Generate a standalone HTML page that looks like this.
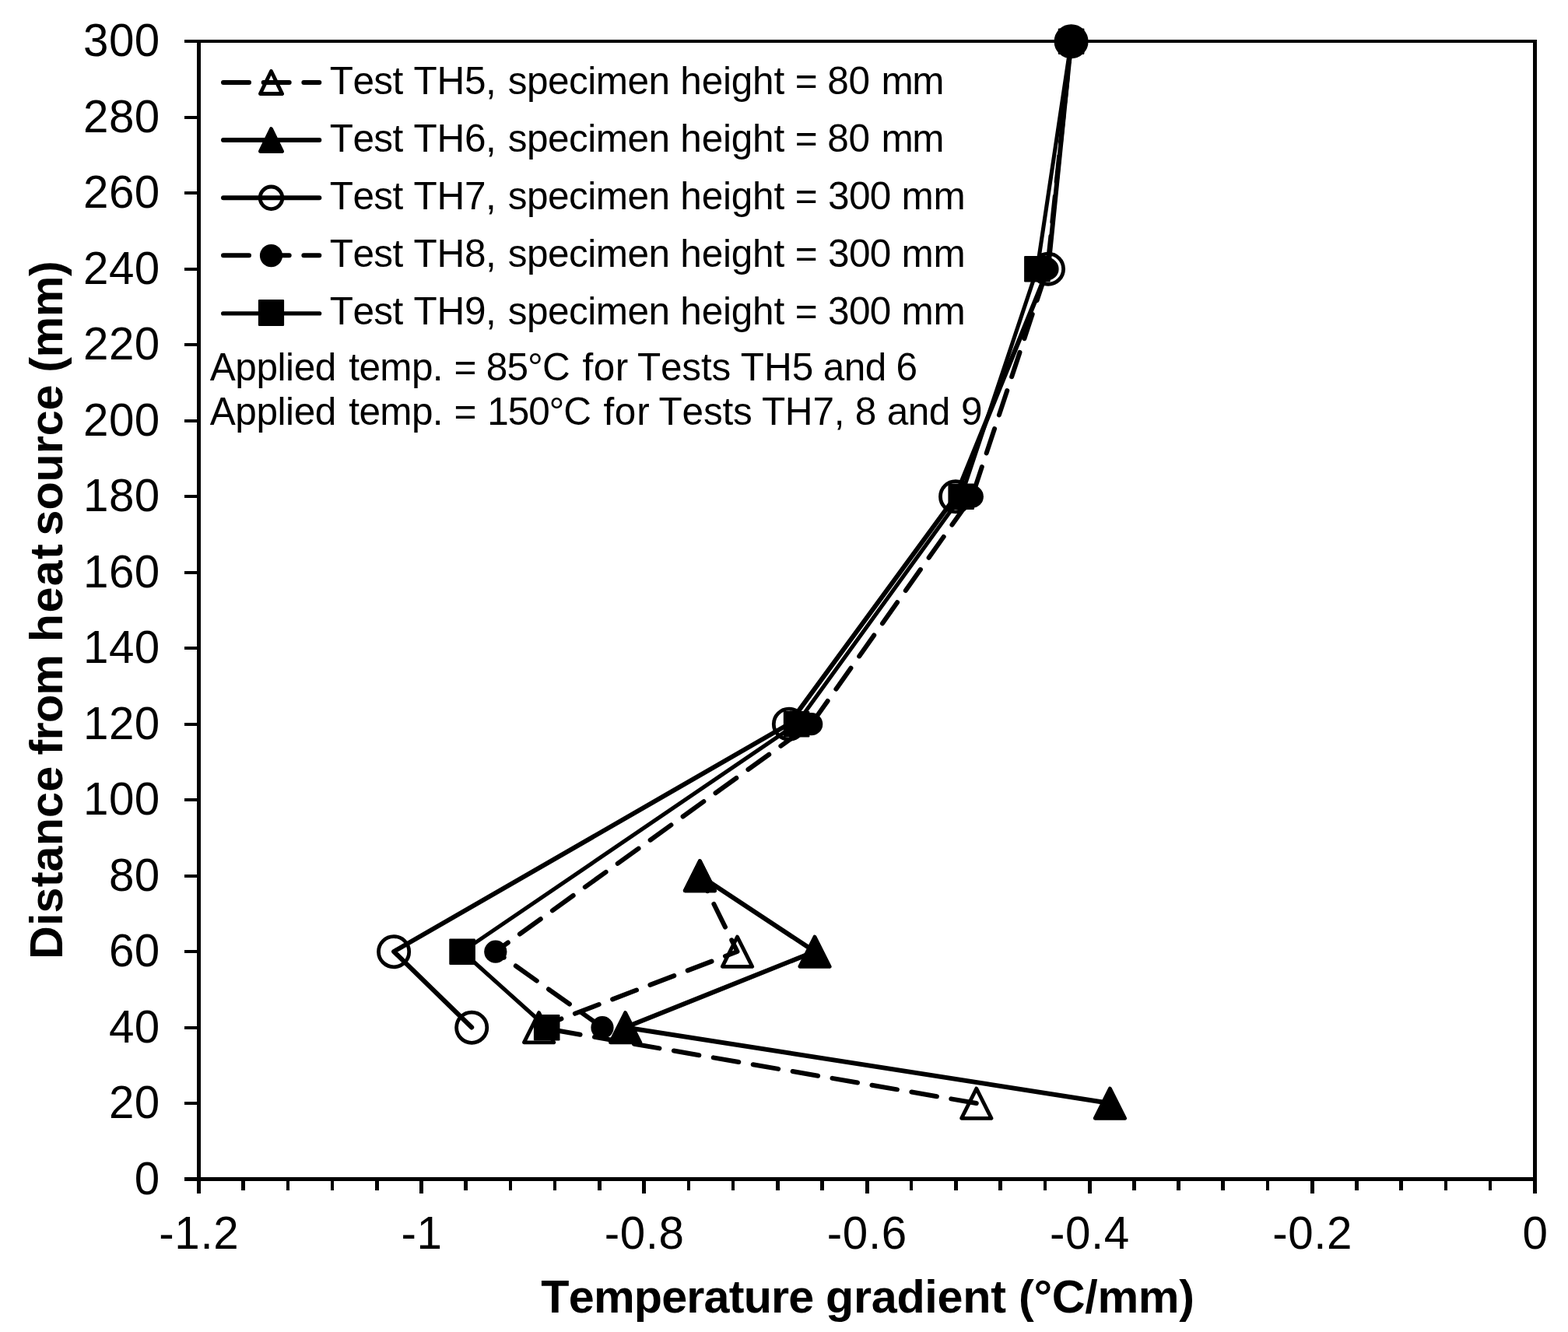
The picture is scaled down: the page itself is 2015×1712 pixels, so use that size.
<!DOCTYPE html>
<html lang="en"><head><meta charset="utf-8">
<title>Temperature gradient versus distance from heat source</title>
<style>
html,body{margin:0;padding:0;background:#fff;}
body{width:2015px;height:1712px;}
svg{display:block;}
text{font-family:"Liberation Sans",sans-serif;fill:#000;font-kerning:none;font-variant-ligatures:none;}
.b{font-weight:bold;}
</style></head><body>
<svg width="2015" height="1712" viewBox="0 0 2015 1712" role="img" aria-label="Temperature gradient versus distance from heat source for tests TH5 to TH9">
<rect x="0" y="0" width="2015" height="1712" fill="#fff"/>
<g fill="#000" shape-rendering="crispEdges">
<rect x="253" y="51" width="5" height="1483"/>
<rect x="1970" y="51" width="5" height="1483"/>
<rect x="237" y="51" width="1738" height="4"/>
<rect x="237" y="1513" width="1738" height="5"/>
<rect x="237" y="149" width="17" height="4"/>
<rect x="237" y="246" width="17" height="4"/>
<rect x="237" y="344" width="17" height="4"/>
<rect x="237" y="441" width="17" height="4"/>
<rect x="237" y="539" width="17" height="4"/>
<rect x="237" y="636" width="17" height="4"/>
<rect x="237" y="734" width="17" height="4"/>
<rect x="237" y="831" width="17" height="4"/>
<rect x="237" y="929" width="17" height="4"/>
<rect x="237" y="1026" width="17" height="4"/>
<rect x="237" y="1124" width="17" height="4"/>
<rect x="237" y="1221" width="17" height="4"/>
<rect x="237" y="1319" width="17" height="4"/>
<rect x="237" y="1416" width="17" height="4"/>
<rect x="310" y="1515" width="5" height="15"/>
<rect x="368" y="1515" width="4" height="15"/>
<rect x="425" y="1515" width="4" height="15"/>
<rect x="482" y="1515" width="5" height="15"/>
<rect x="539" y="1515" width="5" height="19"/>
<rect x="596" y="1515" width="5" height="15"/>
<rect x="654" y="1515" width="4" height="15"/>
<rect x="711" y="1515" width="4" height="15"/>
<rect x="768" y="1515" width="5" height="15"/>
<rect x="825" y="1515" width="5" height="19"/>
<rect x="883" y="1515" width="4" height="15"/>
<rect x="940" y="1515" width="4" height="15"/>
<rect x="997" y="1515" width="5" height="15"/>
<rect x="1054" y="1515" width="5" height="15"/>
<rect x="1112" y="1515" width="5" height="19"/>
<rect x="1169" y="1515" width="4" height="15"/>
<rect x="1226" y="1515" width="5" height="15"/>
<rect x="1283" y="1515" width="5" height="15"/>
<rect x="1341" y="1515" width="4" height="15"/>
<rect x="1398" y="1515" width="5" height="19"/>
<rect x="1455" y="1515" width="5" height="15"/>
<rect x="1512" y="1515" width="5" height="15"/>
<rect x="1569" y="1515" width="5" height="15"/>
<rect x="1627" y="1515" width="4" height="15"/>
<rect x="1684" y="1515" width="5" height="19"/>
<rect x="1741" y="1515" width="5" height="15"/>
<rect x="1798" y="1515" width="5" height="15"/>
<rect x="1856" y="1515" width="4" height="15"/>
<rect x="1913" y="1515" width="4" height="15"/>
</g>
<g fill="#000">
<polyline points="1254.8,1418 692.6,1320.5 947.5,1223 899.4,1125.5" fill="none" stroke="#000" stroke-width="6" stroke-dasharray="33.0 18.68" stroke-linecap="round" stroke-linejoin="round"/>
<polygon points="1254.8,1399.1 1274,1437.3 1235.6,1437.3" fill="none" stroke="#000" stroke-width="4.8" stroke-linejoin="round"/>
<polygon points="692.6,1301.6 711.8,1339.8 673.4,1339.8" fill="none" stroke="#000" stroke-width="4.8" stroke-linejoin="round"/>
<polygon points="947.5,1204.1 966.7,1242.3 928.3,1242.3" fill="none" stroke="#000" stroke-width="4.8" stroke-linejoin="round"/>
<polygon points="899.4,1106.6 918.6,1144.8 880.2,1144.8" fill="none" stroke="#000" stroke-width="4.8" stroke-linejoin="round"/>
<polyline points="1426.4,1418 803.6,1320.5 1047,1223 899.4,1125.5" fill="none" stroke="#000" stroke-width="6" stroke-linejoin="round" stroke-linecap="round"/>
<polygon points="1426.4,1399.1 1445.6,1437.3 1407.2,1437.3" fill="#000" stroke="#000" stroke-width="4.8" stroke-linejoin="round"/>
<polygon points="803.6,1301.6 822.8,1339.8 784.4,1339.8" fill="#000" stroke="#000" stroke-width="4.8" stroke-linejoin="round"/>
<polygon points="1047,1204.1 1066.2,1242.3 1027.8,1242.3" fill="#000" stroke="#000" stroke-width="4.8" stroke-linejoin="round"/>
<polygon points="899.4,1106.6 918.6,1144.8 880.2,1144.8" fill="#000" stroke="#000" stroke-width="4.8" stroke-linejoin="round"/>
<polyline points="606.2,1320.5 506.1,1223 1013.9,930.5 1228.1,638 1347,345.5 1376.6,53" fill="none" stroke="#000" stroke-width="6" stroke-linejoin="round" stroke-linecap="round"/>
<circle cx="606.2" cy="1320.7" r="19.6" fill="none" stroke="#000" stroke-width="4.8"/>
<circle cx="506.1" cy="1223.2" r="19.6" fill="none" stroke="#000" stroke-width="4.8"/>
<circle cx="1013.9" cy="930.7" r="19.6" fill="none" stroke="#000" stroke-width="4.8"/>
<circle cx="1228.1" cy="638.2" r="19.6" fill="none" stroke="#000" stroke-width="4.8"/>
<circle cx="1347" cy="345.7" r="19.6" fill="none" stroke="#000" stroke-width="4.8"/>
<circle cx="1376.6" cy="53.2" r="19.6" fill="none" stroke="#000" stroke-width="4.8"/>
<polyline points="774,1320.5 636.8,1223 1042.7,930.5 1249.3,638 1346,345.5 1376.6,53" fill="none" stroke="#000" stroke-width="6" stroke-dasharray="33.0 18.68" stroke-linecap="round" stroke-linejoin="round"/>
<circle cx="774" cy="1320.7" r="14.6"/>
<circle cx="636.8" cy="1223.2" r="14.6"/>
<circle cx="1042.7" cy="930.7" r="14.6"/>
<circle cx="1249.3" cy="638.2" r="14.6"/>
<circle cx="1346" cy="345.7" r="14.6"/>
<circle cx="1376.6" cy="53.2" r="14.6"/>
<polyline points="702.7,1320.5 594.1,1223 1023.6,930.5 1235.2,638 1332.9,345.5 1376.6,53" fill="none" stroke="#000" stroke-width="5.1" stroke-linejoin="round" stroke-linecap="round"/>
<rect x="685.9" y="1303.9" width="33.6" height="33.6" rx="1.2" ry="1.2"/>
<rect x="577.3" y="1206.4" width="33.6" height="33.6" rx="1.2" ry="1.2"/>
<rect x="1006.8" y="913.9" width="33.6" height="33.6" rx="1.2" ry="1.2"/>
<rect x="1218.4" y="621.4" width="33.6" height="33.6" rx="1.2" ry="1.2"/>
<rect x="1316.1" y="328.9" width="33.6" height="33.6" rx="1.2" ry="1.2"/>
<rect x="1359.8" y="36.4" width="33.6" height="33.6" rx="1.2" ry="1.2"/>
<circle cx="1376.6" cy="53.2" r="20"/>
</g>
<g fill="#000">
<line x1="287" y1="106" x2="410.3" y2="106" stroke="#000" stroke-width="6" stroke-linecap="round" stroke-dasharray="33.0 18.68"/>
<polygon points="348.5,91.5 362.6,120.5 334.4,120.5" fill="none" stroke="#000" stroke-width="4.8" stroke-linejoin="round"/>
<line x1="287" y1="180.1" x2="410.3" y2="180.1" stroke="#000" stroke-width="6" stroke-linecap="round"/>
<polygon points="348.5,165.6 362.6,194.6 334.4,194.6" fill="#000" stroke="#000" stroke-width="4.8" stroke-linejoin="round"/>
<line x1="287" y1="254.2" x2="410.3" y2="254.2" stroke="#000" stroke-width="6" stroke-linecap="round"/>
<circle cx="348.5" cy="254.3" r="14.3" fill="none" stroke="#000" stroke-width="4.8"/>
<line x1="287" y1="328.3" x2="410.3" y2="328.3" stroke="#000" stroke-width="6" stroke-linecap="round" stroke-dasharray="33.0 18.68"/>
<circle cx="348.5" cy="328.6" r="14.6"/>
<line x1="286.55" y1="402.9" x2="410.75" y2="402.9" stroke="#000" stroke-width="5.1" stroke-linecap="round"/>
<rect x="331.9" y="384.9" width="33.2" height="34.1" rx="1.2" ry="1.2"/>
</g>
<text y="121" font-size="49.5"><tspan x="423.79" letter-spacing="-0.63">Test</tspan> <tspan x="531.59" letter-spacing="-0.34">TH5,</tspan> <tspan x="652.82" letter-spacing="-0.51">specimen</tspan> <tspan x="874.37" letter-spacing="-0.21">height</tspan> <tspan x="1021.66">=</tspan> <tspan x="1063.25" letter-spacing="-0.37">80</tspan> <tspan x="1132.61" letter-spacing="-1.5">mm</tspan></text>
<text y="195.1" font-size="49.5"><tspan x="423.79" letter-spacing="-0.63">Test</tspan> <tspan x="531.59" letter-spacing="-0.34">TH6,</tspan> <tspan x="652.82" letter-spacing="-0.51">specimen</tspan> <tspan x="874.37" letter-spacing="-0.21">height</tspan> <tspan x="1021.66">=</tspan> <tspan x="1063.25" letter-spacing="-0.37">80</tspan> <tspan x="1132.61" letter-spacing="-1.5">mm</tspan></text>
<text y="269.2" font-size="49.5"><tspan x="423.79" letter-spacing="-0.63">Test</tspan> <tspan x="531.59" letter-spacing="-0.34">TH7,</tspan> <tspan x="652.82" letter-spacing="-0.51">specimen</tspan> <tspan x="874.37" letter-spacing="-0.21">height</tspan> <tspan x="1021.66">=</tspan> <tspan x="1064.11" letter-spacing="-0.68">300</tspan> <tspan x="1158.41" letter-spacing="-0.12">mm</tspan></text>
<text y="343.3" font-size="49.5"><tspan x="423.79" letter-spacing="-0.63">Test</tspan> <tspan x="531.59" letter-spacing="-0.34">TH8,</tspan> <tspan x="652.82" letter-spacing="-0.51">specimen</tspan> <tspan x="874.37" letter-spacing="-0.21">height</tspan> <tspan x="1021.66">=</tspan> <tspan x="1064.11" letter-spacing="-0.68">300</tspan> <tspan x="1158.41" letter-spacing="-0.12">mm</tspan></text>
<text y="417.4" font-size="49.5"><tspan x="423.79" letter-spacing="-0.63">Test</tspan> <tspan x="531.59" letter-spacing="-0.34">TH9,</tspan> <tspan x="652.82" letter-spacing="-0.51">specimen</tspan> <tspan x="874.37" letter-spacing="-0.21">height</tspan> <tspan x="1021.66">=</tspan> <tspan x="1064.11" letter-spacing="-0.68">300</tspan> <tspan x="1158.41" letter-spacing="-0.12">mm</tspan></text>
<text y="488.8" font-size="49.5"><tspan x="269.8" letter-spacing="-0.44">Applied</tspan> <tspan x="448.25" letter-spacing="-0.61">temp.</tspan> <tspan x="583.56">=</tspan> <tspan x="624.65" letter-spacing="-0.79">85°C</tspan> <tspan x="748.6" letter-spacing="0.48">for</tspan> <tspan x="818.89" letter-spacing="-0.15">Tests</tspan> <tspan x="951.69" letter-spacing="0.09">TH5</tspan> <tspan x="1057.7" letter-spacing="-0.45">and</tspan> <tspan x="1151.57">6</tspan></text>
<text y="545.8" font-size="49.5"><tspan x="269.8" letter-spacing="-0.44">Applied</tspan> <tspan x="448.25" letter-spacing="-0.61">temp.</tspan> <tspan x="583.56">=</tspan> <tspan x="626.23" letter-spacing="-1.07">150°C</tspan> <tspan x="775.4" letter-spacing="0.73">for</tspan> <tspan x="846.59" letter-spacing="-0.23">Tests</tspan> <tspan x="978.89" letter-spacing="-0.24">TH7,</tspan> <tspan x="1098.64">8</tspan> <tspan x="1139.7" letter-spacing="-0.45">and</tspan> <tspan x="1234.95">9</tspan></text>
<text x="205.8" y="72" font-size="58.33" text-anchor="end" letter-spacing="0.5">300</text>
<text x="205.8" y="169.5" font-size="58.33" text-anchor="end" letter-spacing="0.5">280</text>
<text x="205.8" y="267" font-size="58.33" text-anchor="end" letter-spacing="0.5">260</text>
<text x="205.8" y="364.5" font-size="58.33" text-anchor="end" letter-spacing="0.5">240</text>
<text x="205.8" y="462" font-size="58.33" text-anchor="end" letter-spacing="0.5">220</text>
<text x="205.8" y="559.5" font-size="58.33" text-anchor="end" letter-spacing="0.5">200</text>
<text x="205.8" y="657" font-size="58.33" text-anchor="end" letter-spacing="0.5">180</text>
<text x="205.8" y="754.5" font-size="58.33" text-anchor="end" letter-spacing="0.5">160</text>
<text x="205.8" y="852" font-size="58.33" text-anchor="end" letter-spacing="0.5">140</text>
<text x="205.8" y="949.5" font-size="58.33" text-anchor="end" letter-spacing="0.5">120</text>
<text x="205.8" y="1047" font-size="58.33" text-anchor="end" letter-spacing="0.5">100</text>
<text x="205.8" y="1144.5" font-size="58.33" text-anchor="end" letter-spacing="0.5">80</text>
<text x="205.8" y="1242" font-size="58.33" text-anchor="end" letter-spacing="0.5">60</text>
<text x="205.8" y="1339.5" font-size="58.33" text-anchor="end" letter-spacing="0.5">40</text>
<text x="205.8" y="1437" font-size="58.33" text-anchor="end" letter-spacing="0.5">20</text>
<text x="205.8" y="1534.5" font-size="58.33" text-anchor="end" letter-spacing="0.5">0</text>
<text x="255.8" y="1604.5" font-size="58.33" text-anchor="middle" letter-spacing="0.6">-1.2</text>
<text x="541.97" y="1604.5" font-size="58.33" text-anchor="middle" letter-spacing="0.6">-1</text>
<text x="828.13" y="1604.5" font-size="58.33" text-anchor="middle" letter-spacing="0.6">-0.8</text>
<text x="1114.3" y="1604.5" font-size="58.33" text-anchor="middle" letter-spacing="0.6">-0.6</text>
<text x="1400.47" y="1604.5" font-size="58.33" text-anchor="middle" letter-spacing="0.6">-0.4</text>
<text x="1686.63" y="1604.5" font-size="58.33" text-anchor="middle" letter-spacing="0.6">-0.2</text>
<text x="1972.8" y="1604.5" font-size="58.33" text-anchor="middle">0</text>
<text y="1687" font-size="59.3" class="b"><tspan x="695.33" letter-spacing="-0.82">Temperature</tspan> <tspan x="1060.97" letter-spacing="-0.28">gradient</tspan> <tspan x="1309.05" letter-spacing="-0.34">(°C/mm)</tspan></text>
<text transform="translate(80 0) rotate(-90)" y="0" font-size="59.3" class="b"><tspan x="-1232.97" letter-spacing="0.13">Distance</tspan> <tspan x="-970.41" letter-spacing="-0.76">from</tspan> <tspan x="-825.14" letter-spacing="1.28">heat</tspan> <tspan x="-688.48" letter-spacing="-0.09">source</tspan> <tspan x="-478.75" letter-spacing="-0.48">(mm)</tspan></text>
</svg>
</body></html>
